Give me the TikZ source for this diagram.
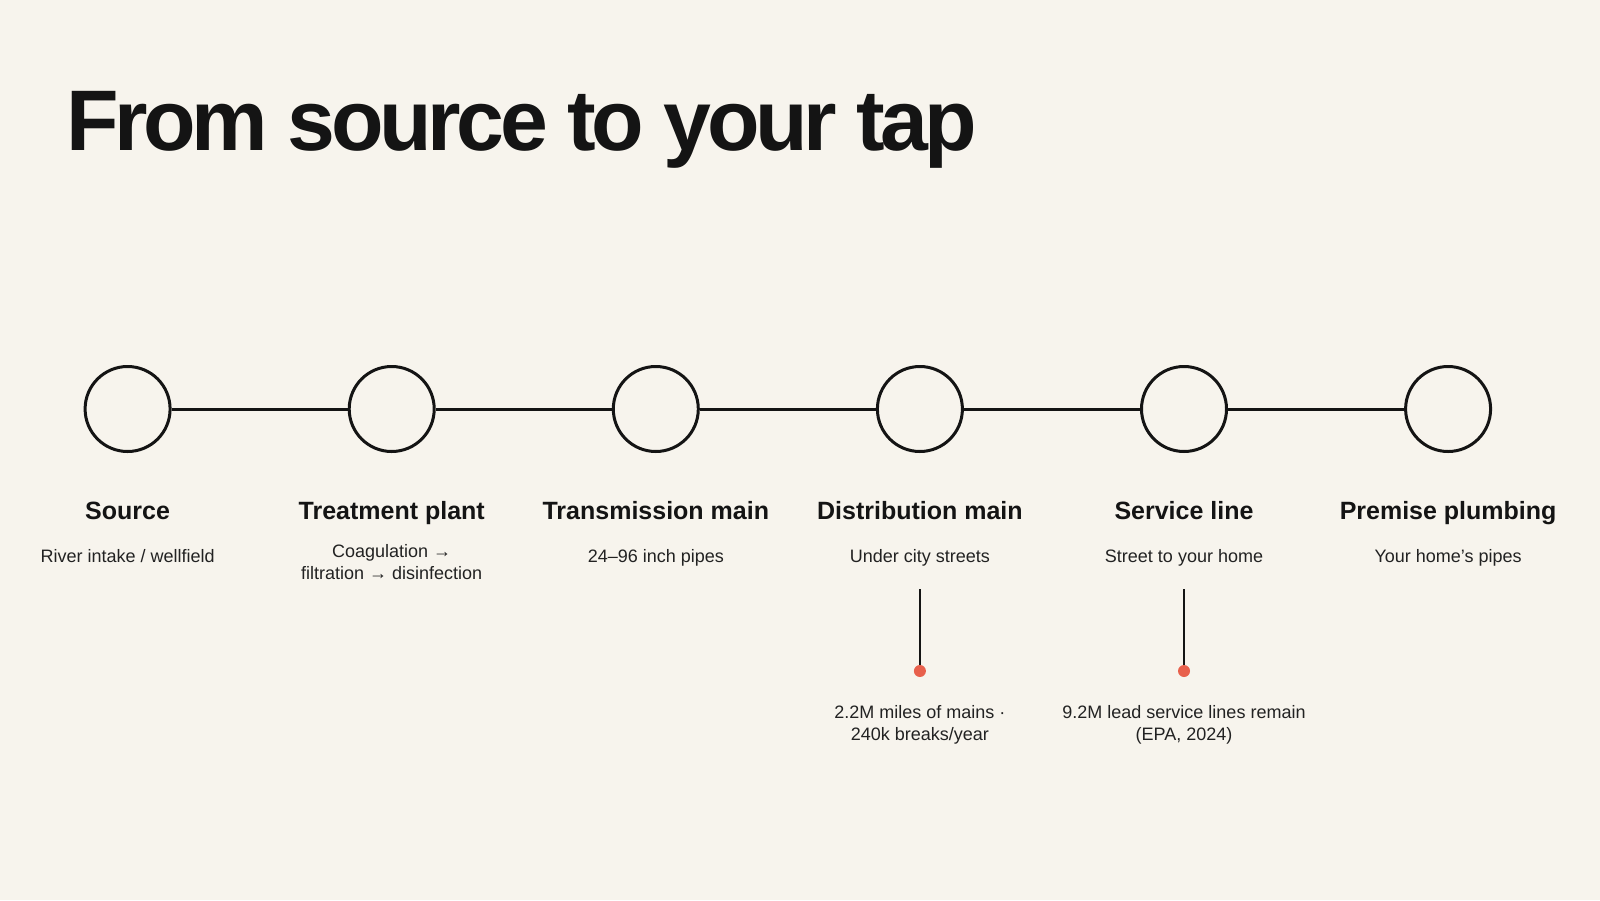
\documentclass[tikz,border=0pt]{standalone}
\usepackage{fontspec}
\setmainfont{Liberation Sans}[Ligatures=ResetAll]
\definecolor{nen}{HTML}{F7F4ED}
\definecolor{muc}{HTML}{141414}
\definecolor{chu}{HTML}{222222}
\definecolor{cam}{HTML}{E8604C}
\begin{document}
\begin{tikzpicture}[x=1pt,y=-1pt,line width=3pt,
    ten/.style={anchor=base,inner sep=0,text=muc,font=\fontsize{25}{30}\selectfont\bfseries},
    mota/.style={inner sep=0,text=chu,align=center,font=\fontsize{18}{22.5}\selectfont},
    vong/.style={draw=muc,circle,minimum size=85pt,inner sep=0}]
            \def\k{264.1}%khoảng cách
            \def\n{6}%số trạm
            \fill[nen] (0,0) rectangle (1600,900);
            \useasboundingbox (0,0) rectangle (1600,900);
            \node[anchor=base west,inner sep=0,text=muc,
                font=\fontsize{86}{90}\selectfont\bfseries\addfontfeatures{LetterSpace=-5.1}]
                (tieude) at (65,150) {From source to your tap};
            \foreach \i in {1,...,\n}{
                \pgfmathsetmacro{\x}{127.6+\k*(\i-1)}
                \node[vong] at (\x,409) (c\i) {};
                \coordinate (t\i) at (\x,519);
                \coordinate (m\i) at (\x,562);
                \coordinate (g\i) at (\x,589);
                \coordinate (d\i) at (\x,671);
                \coordinate (s\i) at (\x,725);
            }
            \foreach \i [count=\j from 2] in {1,...,5}
                \draw[muc] (c\i)--(c\j);
            \path
            (t1) node[ten] (ten1) {Source}
            (t2) node[ten] (ten2) {Treatment plant}
            (t3) node[ten] (ten3) {Transmission main}
            (t4) node[ten] (ten4) {Distribution main}
            (t5) node[ten] (ten5) {Service line}
            (t6) node[ten] (ten6) {Premise plumbing}
            (m1) node[mota,anchor=base] (mt1) {River intake / wellfield}
            (m2) node[mota] (mt2) {Coagulation →\\filtration → disinfection}
            (m3) node[mota,anchor=base] (mt3) {24–96 inch pipes}
            (m4) node[mota,anchor=base] (mt4) {Under city streets}
            (m5) node[mota,anchor=base] (mt5) {Street to your home}
            (m6) node[mota,anchor=base] (mt6) {Your home's pipes}
            (s4) node[mota] (so4) {2.2M miles of mains ·\\240k breaks/year}
            (s5) node[mota] (so5) {9.2M lead service lines remain\\(EPA, 2024)}
            ;
            \foreach \i in {4,5}{
                \draw[muc,line width=2.5pt] (g\i)--(d\i);
                \node[circle,fill=cam,minimum size=12pt,inner sep=0] at (d\i) (cham\i) {};
            }
\end{tikzpicture}
\end{document}
